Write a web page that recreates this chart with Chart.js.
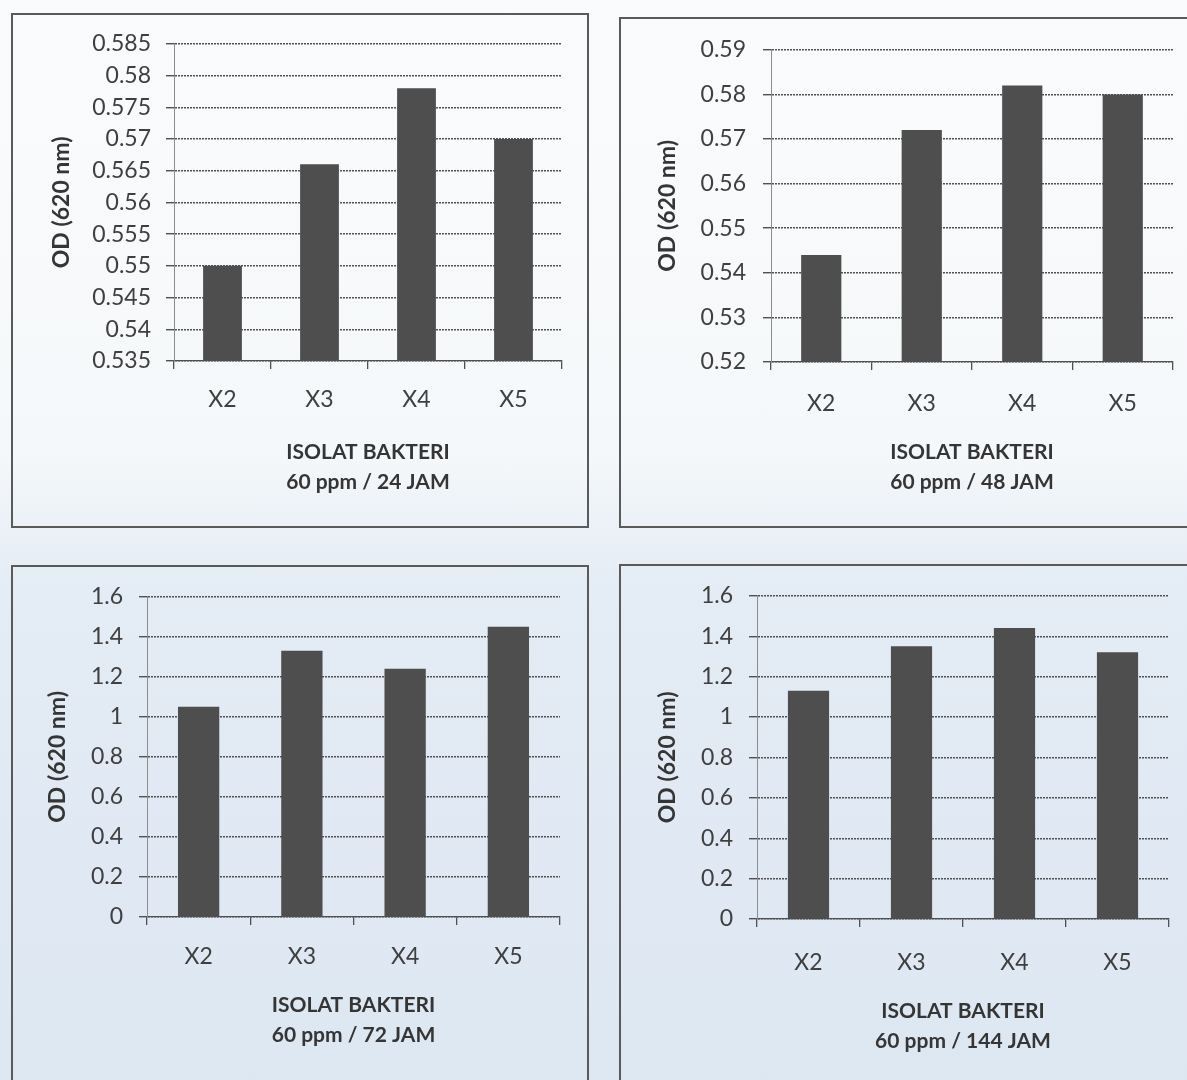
<!DOCTYPE html>
<html>
<head>
<meta charset="utf-8">
<script src="https://cdn.jsdelivr.net/npm/chart.js@4.4.1/dist/chart.umd.min.js"></script>
<style>
  html, body { margin: 0; padding: 0; }
  body {
    width: 1187px; height: 1080px; overflow: hidden; position: relative;
    background: linear-gradient(to bottom, #fafbfc 0%, #f5f8fa 42%, #e4ecf5 54%, #dde7f2 100%);
  }
  .panel { position: absolute; border: 2px solid #5a5a5a; box-sizing: border-box; }
  .panel canvas { position: absolute; left: 0; top: 0; }
</style>
</head>
<body>
<div class="panel" style="left:11px;top:13px;width:578px;height:515px;"><canvas id="c24" width="574" height="511"></canvas></div>
<div class="panel" style="left:619px;top:17px;width:600px;height:511px;"><canvas id="c48" width="566" height="507"></canvas></div>
<div class="panel" style="left:11px;top:565px;width:578px;height:600px;"><canvas id="c72" width="574" height="513"></canvas></div>
<div class="panel" style="left:619px;top:564px;width:600px;height:600px;"><canvas id="c144" width="566" height="514"></canvas></div>
<script>
// Bacterial isolates and optical density readings at 620 nm, 60 ppm
const isolates = ['X2', 'X3', 'X4', 'X5'];

const od24h  = [0.550, 0.566, 0.578, 0.570];
const od48h  = [0.544, 0.572, 0.582, 0.580];
const od72h  = [1.05, 1.33, 1.24, 1.45];
const od144h = [1.13, 1.35, 1.44, 1.32];

const ticks24h  = [0.535, 0.54, 0.545, 0.55, 0.555, 0.56, 0.565, 0.57, 0.575, 0.58, 0.585];
const ticks48h  = [0.52, 0.53, 0.54, 0.55, 0.56, 0.57, 0.58, 0.59];
const ticksFull = [0, 0.2, 0.4, 0.6, 0.8, 1, 1.2, 1.4, 1.6];

const xTitle = 'ISOLAT BAKTERI';
const yTitle = 'OD (620 nm)';
const subtitles = ['60 ppm / 24 JAM', '60 ppm / 48 JAM', '60 ppm / 72 JAM', '60 ppm / 144 JAM'];

const barColor = '#4e4e4e';
const gridColor = '#505050';
const axisColor = '#8c8c8c';
const tickColor = '#3f3f3f';
const titleColor = '#353535';
const tickFont = { family: 'Lato', size: 23 };
const titleFont = { family: 'Lato', size: 21, weight: 'bold', lineHeight: 30 / 21 };
const yTitleFont = { family: 'Lato', size: 23, weight: 'bold', lineHeight: 1.2 };

function drawPanel(id, values, tickValues, subtitle, L) {
  new Chart(document.getElementById(id), {
    type: 'bar',
    data: {
      labels: isolates,
      datasets: [{
        data: values,
        backgroundColor: barColor,
        borderWidth: 0,
        categoryPercentage: 1,
        barPercentage: 0.4
      }]
    },
    options: {
      responsive: false,
      animation: false,
      devicePixelRatio: 1,
      layout: { padding: { left: 0, top: L.padTop, right: L.padRight, bottom: 0 } },
      plugins: { legend: { display: false }, tooltip: { enabled: false } },
      scales: {
        x: {
          grid: { display: true, offset: true, drawOnChartArea: false, drawTicks: true,
                  tickLength: 8, color: gridColor, lineWidth: 1.3 },
          border: { display: true, color: gridColor, width: 1.3 },
          ticks: { padding: L.xTickPad, color: tickColor, font: tickFont, maxRotation: 0 },
          title: { display: true, text: [xTitle, subtitle], color: titleColor, font: titleFont,
                   padding: { top: 0, bottom: L.xTitlePad } },
          afterFit: s => { s.height = L.xHeight; }
        },
        y: {
          min: tickValues[0],
          max: tickValues[tickValues.length - 1],
          afterBuildTicks: s => { s.ticks = tickValues.map(v => ({ value: v })); },
          ticks: { padding: L.yTickPad, color: tickColor, font: tickFont,
                   callback: v => String(+v.toFixed(3)) },
          grid: { color: gridColor, lineWidth: 1.4, tickLength: 8 },
          border: { display: true, color: axisColor, width: 1, dash: [2, 1] },
          title: { display: true, text: yTitle, color: titleColor, font: yTitleFont,
                   padding: { top: L.yTitlePad, bottom: 0 } },
          afterFit: s => { s.width = L.yWidth; }
        }
      }
    }
  });
}

drawPanel('c24', od24h, ticks24h, subtitles[0],
  { padTop: 26, padRight: 25, xHeight: 165, xTickPad: 17, xTitlePad: 29, yWidth: 161, yTickPad: 15, yTitlePad: 35 });
drawPanel('c48', od48h, ticks48h, subtitles[1],
  { padTop: 26, padRight: 14, xHeight: 164, xTickPad: 20, xTitlePad: 29, yWidth: 150, yTickPad: 17, yTitlePad: 33 });
drawPanel('c72', od72h, ticksFull, subtitles[2],
  { padTop: 27, padRight: 27, xHeight: 163, xTickPad: 18, xTitlePad: 30, yWidth: 134, yTickPad: 16, yTitlePad: 31 });
drawPanel('c144', od144h, ticksFull, subtitles[3],
  { padTop: 29, padRight: 18, xHeight: 161, xTickPad: 22, xTitlePad: 24, yWidth: 136, yTickPad: 16, yTitlePad: 33 });
</script>
</body>
</html>
